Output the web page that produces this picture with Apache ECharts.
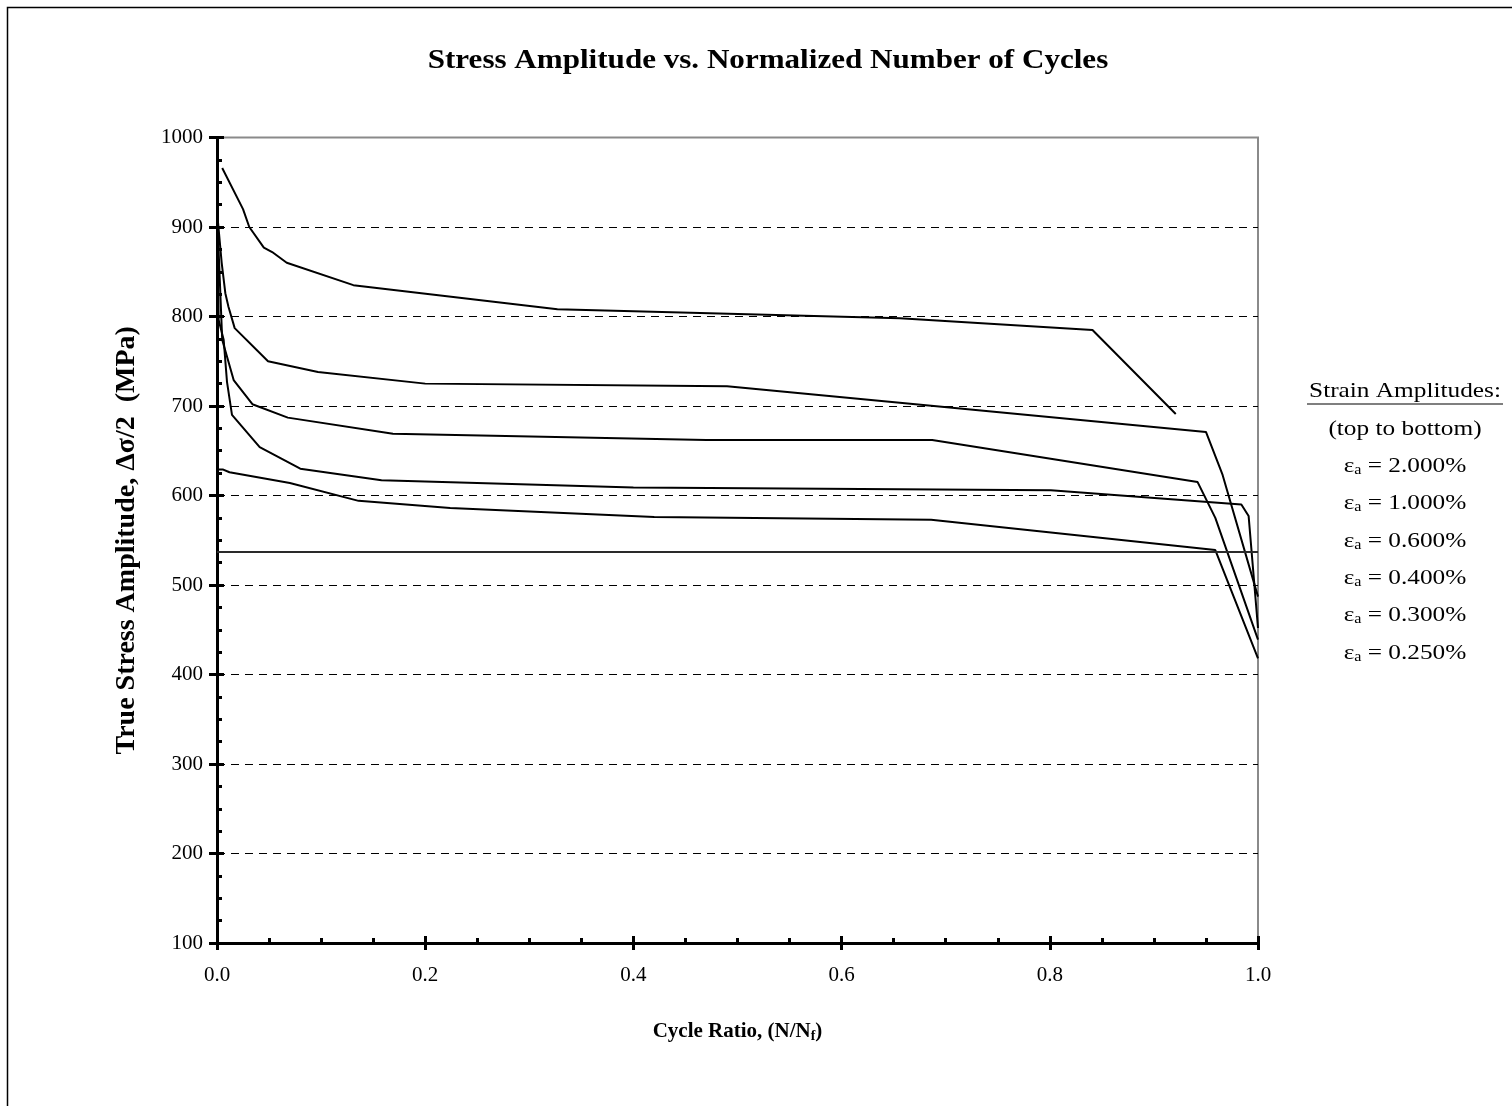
<!DOCTYPE html>
<html>
<head>
<meta charset="utf-8">
<script src="https://cdn.jsdelivr.net/npm/echarts@6/dist/echarts.min.js"></script>
<style>
html,body{margin:0;padding:0;background:#fff;}
#chart{width:1512px;height:1106px;}
</style>
</head>
<body>
<div id="chart"></div>
<script>
// ---- text ----
const chartTitle = 'Stress Amplitude vs. Normalized Number of Cycles';
const yAxisTitle = 'True Stress Amplitude, \u0394\u03c3/2  (MPa)';
const xAxisTitleMain = 'Cycle Ratio, (N/N';
const xAxisTitleSub = 'f';
const legendHeader = 'Strain Amplitudes:';
const legendSubHeader = '(top to bottom)';
const strainLabels = ['2.000%', '1.000%', '0.600%', '0.400%', '0.300%', '0.250%'];

// ---- axes ----
const xMin = 0, xMax = 1, xStep = 0.2;
const yMin = 100, yMax = 1000, yStep = 100;

// ---- series values (cycle ratio, stress amplitude MPa) ----
const x1 = [0.005, 0.025, 0.031, 0.045, 0.053, 0.067, 0.131, 0.327, 0.656, 0.841, 0.921];
const y1 = [966, 920, 900, 877, 872, 860, 835, 808, 798, 785, 691];

const x2 = [0.001, 0.0045, 0.008, 0.011, 0.017, 0.049, 0.097, 0.2, 0.49, 0.95, 0.966, 1.0];
const y2 = [905, 860, 826, 811, 787, 750, 738, 725, 722, 671, 623, 487];

const x3 = [0.001, 0.005, 0.016, 0.034, 0.068, 0.169, 0.47, 0.687, 0.942, 0.959, 1.0];
const y3 = [890, 774, 729, 702, 687, 669, 662, 662, 615, 575, 439];

const x4 = [0.001, 0.0016, 0.0064, 0.0096, 0.0144, 0.041, 0.08, 0.158, 0.4, 0.801, 0.984, 0.991, 1.0];
const y4 = [850, 796, 774, 727, 690, 654, 630, 617, 609, 606, 590, 577, 452];

const x5 = [0.001, 0.006, 0.012, 0.07, 0.136, 0.224, 0.42, 0.686, 0.959, 1.0];
const y5 = [629, 629, 626, 614, 594, 586, 576, 573, 539, 418];

const x6 = [0, 1];
const y6 = [537, 537];

const seriesX = [x1, x2, x3, x4, x5, x6];
const seriesY = [y1, y2, y3, y4, y5, y6];

// ---- build ----
const FONT = '"Liberation Serif", "Times New Roman", serif';
const chart = echarts.init(document.getElementById('chart'), null, {renderer: 'canvas'});

function pairs(xs, ys) { return xs.map((x, i) => [x, ys[i]]); }

const series = seriesX.map((xs, i) => ({
  name: strainLabels[i],
  type: 'line',
  xAxisIndex: 0,
  yAxisIndex: 0,
  data: pairs(xs, seriesY[i]),
  symbol: 'none',
  smooth: false,
  lineStyle: {color: i === 5 ? '#2a2a2a' : '#000', width: 2},
  z: 3,
  animation: false
}));

const legendLines = [legendHeader, legendSubHeader].concat(strainLabels.map(s => '\u03b5{s|a} = ' + s));
const legendY = [391, 429, 466, 503, 541, 578, 615, 653];
const legendGraphics = legendLines.map((t, i) => ({
  type: 'text',
  x: 1405,
  y: legendY[i],
  scaleX: 1.15,
  silent: true,
  style: {
    text: t,
    fill: '#000',
    fontFamily: FONT,
    fontSize: 22,
    textAlign: 'center',
    textVerticalAlign: 'middle',
    align: 'center',
    verticalAlign: 'middle',
    rich: {s: {fontSize: 14, fontFamily: FONT, fill: '#000', verticalAlign: 'bottom', padding: [6, 0, 0, 0]}}
  }
}));

const option = {
  backgroundColor: '#fff',
  animation: false,
  grid: {
    left: 217, top: 137.5, right: 254, bottom: 163,
    show: true, borderColor: '#8a8a8a', borderWidth: 2, backgroundColor: 'transparent', containLabel: false
  },
  xAxis: [
    {
      type: 'value', position: 'bottom', min: xMin, max: xMax, interval: xStep,
      name: '{b|' + xAxisTitleMain + '}{s|' + xAxisTitleSub + '}{b|)}',
      nameLocation: 'middle', nameGap: 78,
      nameTextStyle: {
        rich: {
          b: {fontFamily: FONT, fontSize: 21, fontWeight: 'bold', color: '#000'},
          s: {fontFamily: FONT, fontSize: 14, fontWeight: 'bold', color: '#000', verticalAlign: 'bottom', padding: [8, 0, 0, 0]}
        }
      },
      axisLine: {show: true, onZero: false, lineStyle: {color: '#000', width: 3}},
      axisTick: {show: true, inside: false, length: 7, lineStyle: {color: '#000', width: 3}},
      minorTick: {show: false},
      axisLabel: {show: true, margin: 22, color: '#000', fontFamily: FONT, fontSize: 21,
        formatter: v => v.toFixed(1)},
      splitLine: {show: false}
    },
    {
      type: 'value', position: 'bottom', min: xMin, max: xMax, interval: xStep,
      axisLine: {show: false},
      axisTick: {show: true, inside: true, length: 7, lineStyle: {color: '#000', width: 3}},
      minorTick: {show: true, splitNumber: 4, length: 5, lineStyle: {color: '#000', width: 3}},
      axisLabel: {show: false},
      splitLine: {show: false}
    }
  ],
  yAxis: [
    {
      type: 'value', position: 'left', min: yMin, max: yMax, interval: yStep,
      name: yAxisTitle, nameLocation: 'middle', nameGap: 76,
      nameTextStyle: {fontFamily: FONT, fontSize: 28, fontWeight: 'bold', color: '#000'},
      axisLine: {show: true, onZero: false, lineStyle: {color: '#000', width: 3}},
      axisTick: {show: true, inside: false, length: 8, lineStyle: {color: '#000', width: 3}},
      minorTick: {show: false},
      axisLabel: {show: true, margin: 14, color: '#000', fontFamily: FONT, fontSize: 21,
        formatter: v => String(v)},
      splitLine: {show: true, showMinLine: false, showMaxLine: false,
        lineStyle: {color: '#000', width: 1, type: [8, 6]}}
    },
    {
      type: 'value', position: 'left', min: yMin, max: yMax, interval: yStep,
      axisLine: {show: false},
      axisTick: {show: true, inside: true, length: 7, lineStyle: {color: '#000', width: 3}},
      minorTick: {show: true, splitNumber: 4, length: 5, lineStyle: {color: '#000', width: 3}},
      axisLabel: {show: false},
      splitLine: {show: false}
    }
  ],
  series: series,
  graphic: [
    {
      type: 'rect', silent: true, z: -10,
      shape: {x: 7.5, y: 7.5, width: 1600, height: 1200},
      style: {fill: 'none', stroke: '#000', lineWidth: 1.5}
    },
    {
      type: 'text', x: 768, y: 61, scaleX: 1.11, silent: true,
      style: {
        text: chartTitle, fill: '#000', fontFamily: FONT, fontSize: 28, fontWeight: 'bold',
        textAlign: 'center', textVerticalAlign: 'middle', align: 'center', verticalAlign: 'middle'
      }
    },
    {
      type: 'line', silent: true,
      shape: {x1: 1307, y1: 404, x2: 1503, y2: 404},
      style: {stroke: '#000', lineWidth: 1.2}
    }
  ].concat(legendGraphics)
};

chart.setOption(option);
</script>
</body>
</html>
